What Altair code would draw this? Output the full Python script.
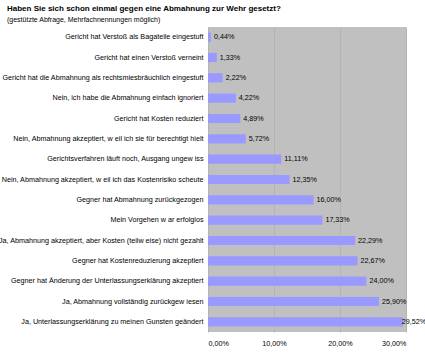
import altair as alt
import pandas as pd

categories = [
    "Gericht hat Verstoß als Bagatelle eingestuft",
    "Gericht hat einen Verstoß verneint",
    "Gericht hat die Abmahnung als rechtsmiesbräuchlich eingestuft",
    "Nein, ich habe die Abmahnung einfach ignoriert",
    "Gericht hat Kosten reduziert",
    "Nein, Abmahnung akzeptiert, w eil ich sie für berechtigt hielt",
    "Gerichtsverfahren läuft noch, Ausgang ungew iss",
    "Nein, Abmahnung akzeptiert, w eil ich das Kostenrisiko scheute",
    "Gegner hat Abmahnung zurückgezogen",
    "Mein Vorgehen w ar erfolglos",
    "Ja, Abmahnung akzeptiert, aber Kosten (teilw eise) nicht gezahlt",
    "Gegner hat Kostenreduzierung akzeptiert",
    "Gegner hat Änderung der Unterlassungserklärung akzeptiert",
    "Ja, Abmahnung vollständig zurückgew iesen",
    "Ja, Unterlassungserklärung zu meinen Gunsten geändert",
]
values = [0.44, 1.33, 2.22, 4.22, 4.89, 5.72, 11.11, 12.35, 16.00, 17.33,
          22.29, 22.67, 24.00, 25.90, 29.52]
x_ticks = [0, 10, 20, 30]

df = pd.DataFrame({"cat": categories, "val": values})
df["lbl"] = [f"{v:.2f}".replace(".", ",") + "%" for v in values]

FONT = "Liberation Sans"

y_enc = alt.Y("cat:N", sort=categories, title=None,
              scale=alt.Scale(paddingInner=0.55, paddingOuter=0.275),
              axis=alt.Axis(ticks=False, domain=False, labelPadding=5,
                            labelFontSize=7.2, labelFont=FONT, labelColor="#000000",
                            labelLimit=300))
x_enc = alt.X("val:Q", title=None,
              scale=alt.Scale(domain=[0, 30], nice=False),
              axis=alt.Axis(values=x_ticks, ticks=False, domain=False,
                            labelFontSize=7.2, labelFont=FONT, labelColor="#000000",
                            labelPadding=7, gridColor="#B4B4B4", gridWidth=1,
                            labelExpr="replace(format(datum.value, '.2f'), '.', ',') + '%'"))

bars = alt.Chart(df).mark_bar(color="#9999FF").encode(x=x_enc, y=y_enc)
text = alt.Chart(df).transform_calculate(
    pos="min(datum.val, 28.9)"
).mark_text(align="left", dx=3, fontSize=7.2, font=FONT,
            color="#000000").encode(
    x=alt.X("pos:Q"), y=alt.Y("cat:N", sort=categories), text="lbl:N")

chart = (bars + text).properties(
    width=198, height=305,
    background="#FFFFFF",
    autosize=alt.AutoSizeParams(type="none"),
    padding={"left": 208, "top": 27, "right": 19, "bottom": 21},
    title=alt.TitleParams(
        text="Haben Sie sich schon einmal gegen eine Abmahnung zur Wehr gesetzt?",
        subtitle="(gestützte Abfrage, Mehrfachnennungen möglich)",
        anchor="start", frame="group", dx=-201, offset=4,
        font=FONT, fontSize=8, fontWeight="bold", color="#000000",
        subtitleFont=FONT, subtitleFontSize=7, subtitleColor="#000000",
        subtitlePadding=3),
).configure_view(fill="#C0C0C0", stroke=None)

chart.save("out.html", embed_options={"renderer": "svg", "actions": False})
